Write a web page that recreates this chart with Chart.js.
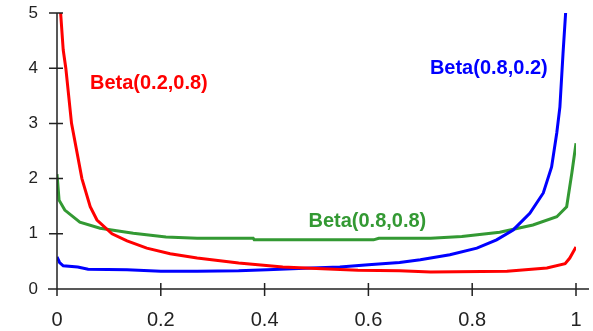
<!DOCTYPE html>
<html>
<head>
<meta charset="utf-8">
<script src="https://cdn.jsdelivr.net/npm/chart.js@4/dist/chart.umd.min.js"></script>
<style>
  html, body { margin: 0; padding: 0; background: #ffffff; }
  #wrap { width: 593px; height: 331px; }
</style>
</head>
<body>
<div id="wrap"><canvas id="betaChart" width="593" height="331"></canvas></div>
<script>
// values
const redX   = [0.007, 0.012, 0.017, 0.028, 0.048, 0.064, 0.077, 0.106, 0.135, 0.173, 0.218, 0.27, 0.35, 0.435, 0.5, 0.58, 0.66, 0.72, 0.867, 0.944, 0.979, 0.988, 1.0];
const redY   = [5.0, 4.33, 4.0, 3.0, 2.0, 1.49, 1.25, 1.0, 0.87, 0.74, 0.64, 0.56, 0.47, 0.40, 0.37, 0.34, 0.33, 0.31, 0.32, 0.38, 0.46, 0.56, 0.76];

const blueX  = [0.0, 0.005, 0.012, 0.04, 0.06, 0.135, 0.2, 0.27, 0.35, 0.405, 0.49, 0.545, 0.6, 0.66, 0.70, 0.757, 0.809, 0.847, 0.879, 0.911, 0.937, 0.953, 0.963, 0.969, 0.975, 0.98];
const blueY  = [0.58, 0.48, 0.42, 0.40, 0.36, 0.35, 0.32, 0.32, 0.33, 0.35, 0.38, 0.40, 0.44, 0.48, 0.53, 0.62, 0.74, 0.89, 1.07, 1.37, 1.74, 2.21, 2.83, 3.3, 4.27, 5.0];

const greenX = [0.0, 0.004, 0.015, 0.044, 0.083, 0.147, 0.21, 0.27, 0.378, 0.38, 0.61, 0.62, 0.72, 0.78, 0.853, 0.917, 0.963, 0.982, 0.992, 1.0];
const greenY = [2.08, 1.61, 1.43, 1.21, 1.1, 1.01, 0.94, 0.92, 0.92, 0.89, 0.89, 0.92, 0.92, 0.95, 1.03, 1.16, 1.31, 1.49, 2.1, 2.64];

const seriesNames = ['Beta(0.2,0.8)', 'Beta(0.8,0.2)', 'Beta(0.8,0.8)'];
const xTicks = [0, 0.2, 0.4, 0.6, 0.8, 1];
const yTicks = [0, 1, 2, 3, 4, 5];

const COLORS = {
    red: '#ff0000',
    blue: '#0000ff',
    green: '#339933',
    axis: '#222222',
    text: '#222222'
};

function toPoints(xs, ys) {
    return xs.map((x, i) => ({ x: x, y: ys[i] }));
}

// label anchors in data units
const labelSpots = [
    { text: seriesNames[0], x: 0.177, y: 3.73, color: COLORS.red },
    { text: seriesNames[1], x: 0.832, y: 4.0, color: COLORS.blue },
    { text: seriesNames[2], x: 0.598, y: 1.23, color: COLORS.green }
];

// axes with ticks crossing both sides, plus curve labels
const axesPlugin = {
    id: 'crossAxes',
    afterDatasetsDraw(chart) {
        const { ctx, scales: { x, y } } = chart;
        const x0 = x.getPixelForValue(0);
        const y0 = y.getPixelForValue(0);
        ctx.save();
        ctx.strokeStyle = COLORS.axis;
        ctx.lineWidth = 1.5;
        ctx.beginPath();
        ctx.moveTo(x0 - 9, y0);
        ctx.lineTo(x.getPixelForValue(1) + 13, y0);
        ctx.moveTo(x0, y.getPixelForValue(5));
        ctx.lineTo(x0, y0 + 7);
        xTicks.forEach((v) => {
            const px = x.getPixelForValue(v);
            ctx.moveTo(px, y0 - 6);
            ctx.lineTo(px, y0 + 7);
        });
        yTicks.forEach((v) => {
            const py = y.getPixelForValue(v);
            ctx.moveTo(x0 - 8, py);
            ctx.lineTo(x0 + 6, py);
        });
        ctx.stroke();

        ctx.font = 'bold 20px "Liberation Sans", Arial, sans-serif';
        ctx.textAlign = 'center';
        ctx.textBaseline = 'middle';
        labelSpots.forEach((l) => {
            ctx.fillStyle = l.color;
            ctx.fillText(l.text, x.getPixelForValue(l.x), y.getPixelForValue(l.y));
        });
        ctx.restore();
    }
};

const lineStyle = { borderWidth: 3, pointRadius: 0, tension: 0, fill: false };

new Chart(document.getElementById('betaChart').getContext('2d'), {
    type: 'line',
    data: {
        datasets: [
            { label: seriesNames[0], data: toPoints(redX, redY), borderColor: COLORS.red, ...lineStyle },
            { label: seriesNames[1], data: toPoints(blueX, blueY), borderColor: COLORS.blue, ...lineStyle },
            { label: seriesNames[2], data: toPoints(greenX, greenY), borderColor: COLORS.green, ...lineStyle }
        ]
    },
    options: {
        responsive: false,
        animation: false,
        events: [],
        layout: { padding: { top: 13, right: 17, bottom: 0, left: 0 } },
        plugins: { legend: { display: false }, tooltip: { enabled: false } },
        scales: {
            x: {
                type: 'linear',
                min: 0,
                max: 1,
                afterBuildTicks: (scale) => { scale.ticks = xTicks.map((v) => ({ value: v })); },
                // keep the plot area fixed, labels may overhang
                afterFit: (scale) => {
                    scale.height = 42;
                    scale.paddingLeft = 0;
                    scale.paddingRight = 0;
                },
                grid: { display: false, drawTicks: false, tickLength: 0 },
                border: { display: false },
                ticks: {
                    padding: 19,
                    color: COLORS.text,
                    font: { family: '"Liberation Sans", Arial, sans-serif', size: 20 },
                    maxRotation: 0,
                    callback: (v) => String(v)
                }
            },
            y: {
                min: 0,
                max: 5,
                afterBuildTicks: (scale) => { scale.ticks = yTicks.map((v) => ({ value: v })); },
                afterFit: (scale) => {
                    scale.width = 57;
                    scale.paddingTop = 0;
                    scale.paddingBottom = 0;
                },
                grid: { display: false, drawTicks: false, tickLength: 0 },
                border: { display: false },
                ticks: {
                    padding: 19,
                    color: COLORS.text,
                    font: { family: '"Liberation Sans", Arial, sans-serif', size: 17 },
                    callback: (v) => String(v)
                }
            }
        }
    },
    plugins: [axesPlugin]
});
</script>
</body>
</html>
